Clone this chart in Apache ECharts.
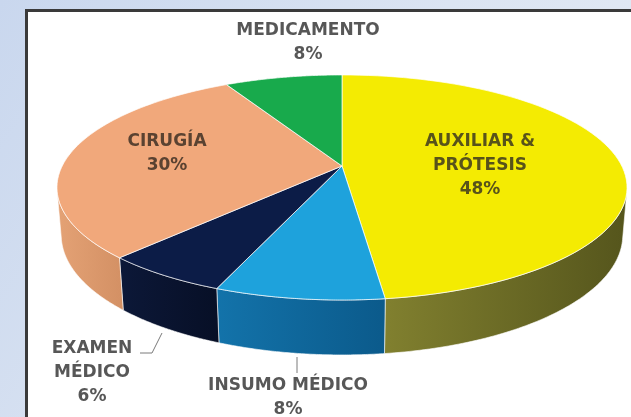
<!DOCTYPE html>
<html>
<head>
<meta charset="utf-8">
<script src="https://cdn.jsdelivr.net/npm/echarts@6/dist/echarts.min.js"></script>
<style>
    html, body { margin: 0; padding: 0; }
    #main { width: 631px; height: 417px; }
</style>
</head>
<body>
<div id="main"></div>
<script type="text/javascript">
    // data
    var categories = ['AUXILIAR & PRÓTESIS', 'INSUMO MÉDICO', 'EXAMEN MÉDICO', 'CIRUGÍA', 'MEDICAMENTO'];
    var values = [48, 8, 6, 30, 8];
    // how each name is broken into lines on the chart
    var labelLines = [['AUXILIAR &', 'PRÓTESIS'], ['INSUMO MÉDICO'], ['EXAMEN', 'MÉDICO'], ['CIRUGÍA'], ['MEDICAMENTO']];

    // styles / layout
    var topColors = ['#f4eb02', '#1ea2dc', '#0c1c47', '#f1a87b', '#18aa4c'];
    var sideColors = [['#81802f', '#55551c'], ['#1373aa', '#0b5a8b'], ['#0c1838', '#070f26'], ['#e4a275', '#d39064'], ['#128a3c', '#0e6e30']];
    var labelColors = ['#58531a', '#575757', '#575757', '#5a4231', '#575757'];
    var labelPos = [[480, 166], [288, 398], [92, 373], [167, 154], [308, 43]];

    // perspective view of a tilted disc
    var cx = 342, cy = 166, f = 1351.7, R = 0.207, D = 1, h = 0.0379;
    var tilt = 22.8 * Math.PI / 180;
    var sinA = Math.sin(tilt), cosA = Math.cos(tilt);
    var visFrom = Math.acos(-R / (D * cosA));
    var visTo = 2 * Math.PI - visFrom;

    function project(X, Y, Z) {
        var depth = D - Y * sinA + Z * cosA;
        return [cx + f * X / depth, cy - f * (Y * cosA + Z * sinA) / depth];
    }
    function rim(theta, Y) {
        return project(R * Math.sin(theta), Y, R * Math.cos(theta));
    }

    var total = values.reduce(function (a, b) { return a + b; }, 0);

    function renderItem(params, api) {
        var i = params.dataIndex;
        var before = 0;
        for (var j = 0; j < i; j++) before += values[j];
        var a0 = before / total * 2 * Math.PI;
        var a1 = (before + api.value(1)) / total * 2 * Math.PI;
        var steps = 80, k, t;

        var topPts = [project(0, 0, 0)];
        for (k = 0; k <= steps; k++) topPts.push(rim(a0 + (a1 - a0) * k / steps, 0));

        var children = [{
            type: 'polygon',
            z2: 10,
            shape: { points: topPts },
            style: { fill: topColors[i], stroke: 'rgba(255,255,255,0.7)', lineWidth: 1 }
        }];

        // outer wall, only the part facing the viewer
        var lo = Math.max(a0, visFrom), hi = Math.min(a1, visTo);
        if (hi > lo) {
            var up = [], down = [];
            for (k = 0; k <= steps; k++) {
                t = lo + (hi - lo) * k / steps;
                up.push(rim(t, 0));
                down.push(rim(t, -h));
            }
            children.push({
                type: 'polygon',
                z2: 5,
                shape: { points: up.concat(down.reverse()) },
                style: {
                    fill: new echarts.graphic.LinearGradient(0, 0, 1, 0, [
                        { offset: 0, color: sideColors[i][0] },
                        { offset: 1, color: sideColors[i][1] }
                    ]),
                    stroke: 'rgba(255,255,255,0.6)',
                    lineWidth: 1
                }
            });
        }

        children.push({
            type: 'text',
            z2: 20,
            x: labelPos[i][0],
            y: labelPos[i][1],
            style: {
                text: labelLines[i].concat([api.value(1) + '%']).join('\n'),
                fill: labelColors[i],
                fontFamily: 'DejaVu Sans',
                fontWeight: 'bold',
                fontSize: 17,
                lineHeight: 24,
                align: 'center',
                verticalAlign: 'middle'
            }
        });

        return { type: 'group', children: children };
    }

    myChart = echarts.init(document.getElementById('main'));
    myChart.setOption({
        animation: false,
        graphic: [
            {
                type: 'rect', z: -20,
                shape: { x: 0, y: 0, width: 631, height: 417 },
                style: {
                    fill: new echarts.graphic.LinearGradient(0, 0, 1, 1, [
                        { offset: 0, color: '#c9d7ee' },
                        { offset: 0.5, color: '#dbe4f2' },
                        { offset: 1, color: '#e6ecf5' }
                    ])
                }
            },
            {
                type: 'rect', z: -10,
                shape: { x: 26.5, y: 10.5, width: 700, height: 500 },
                style: { fill: '#ffffff', stroke: '#3a3a3a', lineWidth: 3 }
            },
            {
                type: 'polyline', z: 10,
                shape: { points: [[140, 353], [152, 353], [162, 333]] },
                style: { stroke: '#7a7a7a', lineWidth: 1, fill: null }
            },
            {
                type: 'polyline', z: 10,
                shape: { points: [[297, 357], [297, 373]] },
                style: { stroke: '#7a7a7a', lineWidth: 1, fill: null }
            }
        ],
        series: [{
            type: 'custom',
            coordinateSystem: 'none',
            renderItem: renderItem,
            data: values.map(function (v, i) { return [i, v, categories[i]]; })
        }]
    });
</script>
</body>
</html>
